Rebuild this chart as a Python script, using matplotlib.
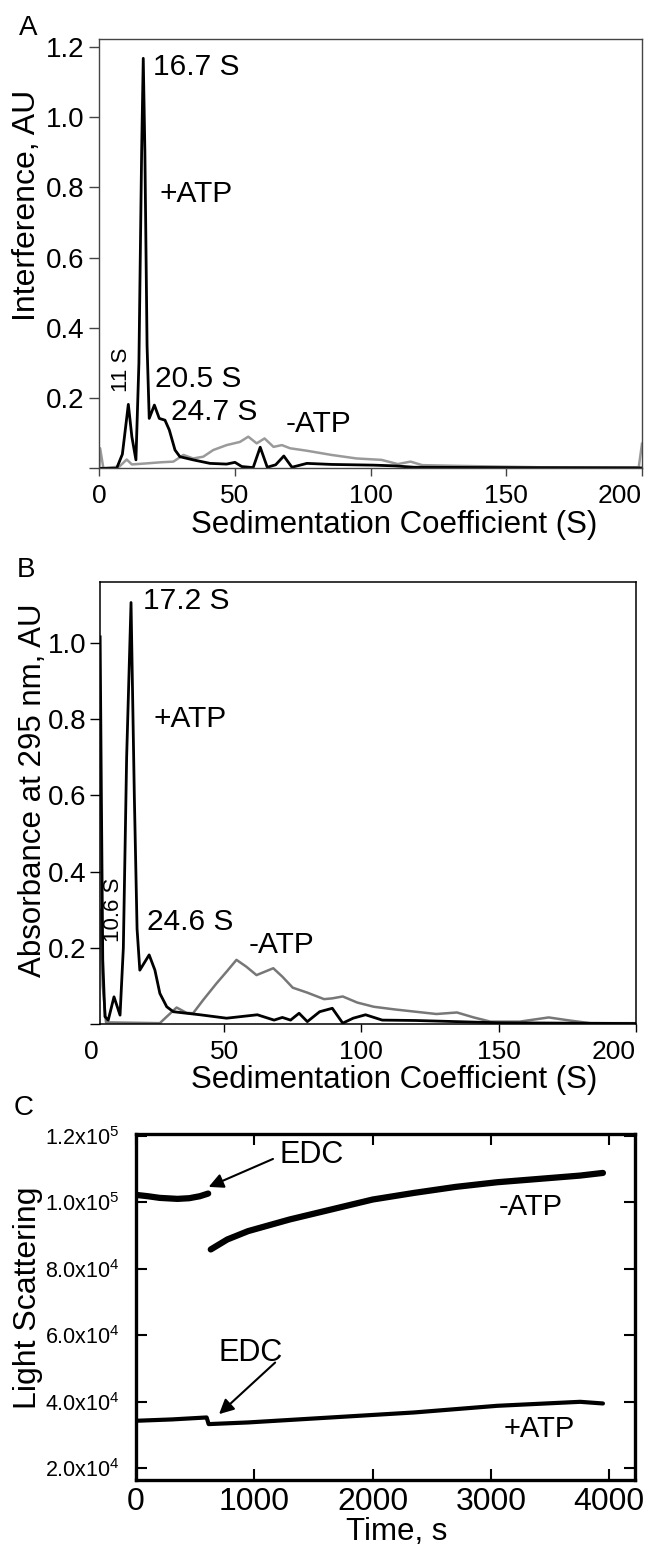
import numpy as np
import matplotlib.pyplot as plt

plt.rcParams['font.family'] = ['Liberation Sans', 'DejaVu Sans']
plt.rcParams['mathtext.fontset'] = 'custom'
plt.rcParams['mathtext.rm'] = 'Liberation Sans'
plt.rcParams['mathtext.it'] = 'Liberation Sans:italic'

# ---- panel A: interference, sedimentation coefficient (S)
a_plus_s = [0, 6.4, 8.5, 10.7, 12.0, 13.5, 14.6, 15.6, 16.2, 16.8, 17.6, 18.4, 20.3, 22.1, 24.2,
            25.8, 27.9, 29.7, 34.6, 40.8, 46.9, 50.0, 52.5, 56.7, 59.3, 61.9, 65.0, 68.0, 71.0,
            76.5, 85.6, 101, 108.6, 116, 150, 200]
a_plus_v = [0, 0.0, 0.04, 0.182, 0.09, 0.024, 0.30, 0.90, 1.167, 0.90, 0.35, 0.142, 0.18, 0.142, 0.137,
            0.109, 0.052, 0.033, 0.024, 0.014, 0.012, 0.017, 0.005, 0.002, 0.06, 0.003, 0.01, 0.035, 0.003,
            0.014, 0.011, 0.009, 0.007, 0.003, 0.002, 0.001]
a_minus_s = [0, 0.3, 1.5, 7.4, 10.1, 12.0, 17.5, 22.4, 27.3, 31.0, 34.6, 38.3, 42.0, 46.9, 51.8, 54.9,
             58.0, 60.9, 64.2, 67.3, 70.3, 76.5, 85.6, 94.8, 104, 110, 114.7, 119, 131.5, 162, 198.8, 200]
a_minus_v = [0.0, 0.057, 0.0, 0.005, 0.025, 0.011, 0.014, 0.017, 0.019, 0.038, 0.028, 0.033, 0.052, 0.066,
             0.075, 0.09, 0.071, 0.085, 0.061, 0.066, 0.057, 0.05, 0.038, 0.028, 0.024, 0.012, 0.019, 0.009,
             0.007, 0.003, 0.003, 0.07]

# ---- panel B: absorbance at 295 nm
b_plus_s = [4.85, 5.3, 5.8, 6.6, 7.8, 9.9, 12.1, 13.3, 14.5, 16.1, 17.3, 18.3, 19.3, 22.7, 24.8, 26.6,
            29.1, 31.5, 36.3, 41.2, 50.9, 62.1, 68.2, 71.2, 74.2, 77.3, 80.3, 84.8, 89.4, 93.2, 97.0,
            101.5, 107.6, 119.7, 134.8, 150, 200]
b_plus_v = [1.016, 0.6, 0.17, 0.02, 0.011, 0.072, 0.024, 0.2, 0.7, 1.106, 0.6, 0.25, 0.142, 0.182, 0.142,
            0.081, 0.046, 0.033, 0.029, 0.025, 0.016, 0.025, 0.011, 0.018, 0.011, 0.029, 0.007, 0.033,
            0.042, 0.003, 0.016, 0.025, 0.011, 0.01, 0.007, 0.004, 0.002]
b_minus_s = [4.85, 5.8, 7.0, 26.6, 29.1, 32.7, 36.3, 38.7, 42.4, 47.2, 50.9, 54.5, 58.1, 61.8, 65.2,
             67.9, 71.2, 75.0, 80.3, 86.4, 89.4, 93.2, 98.5, 104.5, 112.1, 119.7, 127.3, 134.8, 140.9,
             147, 157.6, 168.2, 175.8, 183.3, 200]
b_minus_v = [0.3, 0.1, 0.005, 0.003, 0.02, 0.044, 0.03, 0.029, 0.064, 0.107, 0.138, 0.169, 0.151, 0.129,
             0.139, 0.147, 0.125, 0.096, 0.083, 0.066, 0.068, 0.073, 0.057, 0.046, 0.039, 0.033, 0.027,
             0.031, 0.018, 0.007, 0.007, 0.018, 0.01, 0.003, 0.003]

# ---- panel C: light scattering vs time (s)
c_minus_pre_t = [0, 100, 200, 350, 450, 540, 610]
c_minus_pre_v = [1.022e5, 1.018e5, 1.013e5, 1.010e5, 1.012e5, 1.018e5, 1.026e5]
c_minus_post_t = [632, 772, 947, 1298, 1649, 2000, 2351, 2702, 3053, 3404, 3754, 3947]
c_minus_post_v = [8.58e4, 8.88e4, 9.13e4, 9.48e4, 9.78e4, 1.008e5, 1.028e5, 1.046e5, 1.06e5, 1.07e5,
                  1.08e5, 1.088e5]
c_plus_t = [0, 300, 597, 614, 947, 1649, 2351, 3053, 3754, 3947]
c_plus_v = [3.43e4, 3.47e4, 3.53e4, 3.33e4, 3.38e4, 3.53e4, 3.68e4, 3.88e4, 4.0e4, 3.95e4]

c_yticks = [2e4, 4e4, 6e4, 8e4, 1e5, 1.2e5]
c_ylabels = [r'2.0x10$^{4}$', r'4.0x10$^{4}$', r'6.0x10$^{4}$', r'8.0x10$^{4}$',
             r'1.0x10$^{5}$', r'1.2x10$^{5}$']

W, H = 650, 1544


def ax_rect(left, top, right, bottom):
    return [left / W, 1 - bottom / H, (right - left) / W, (bottom - top) / H]


fig = plt.figure(figsize=(W / 100, H / 100), dpi=100)

# ---------------- A
ax = fig.add_axes(ax_rect(99.3, 39, 642, 468.3))
ax.plot(a_minus_s, a_minus_v, color='#9a9a9a', lw=1.8)
ax.plot(a_plus_s, a_plus_v, color='black', lw=2.0)
ax.set_xlim(0, 200)
ax.set_ylim(0, 1.222)
ax.set_yticks([0, 0.2, 0.4, 0.6, 0.8, 1.0, 1.2])
ax.set_yticklabels(['', '0.2', '0.4', '0.6', '0.8', '1.0', '1.2'])
ax.set_xticks([0, 50, 100, 150, 200])
ax.tick_params(axis='y', direction='out', length=7, width=1, pad=4, labelsize=20, color='#444444')
ax.tick_params(axis='x', direction='out', length=6, width=1, pad=5, labelsize=19, color='#444444')
ax.get_xticklabels()[-1].set_ha('right')
for sp in ax.spines.values():
    sp.set_color('#444444')
    sp.set_linewidth(1.0)
ax.set_xlabel('Sedimentation Coefficient (S)', fontsize=22.5)
ax.xaxis.set_label_coords(0.543, -0.132)
ax.xaxis.label.set_va('center')
ax.set_ylabel('Interference, AU', fontsize=23)
ax.yaxis.set_label_coords(-0.133, 0.613)
ax.yaxis.label.set_va('center')
ax.text(19.7, 1.141, '16.7 S', fontsize=21.5, ha='left', va='center')
ax.text(22.1, 0.782, '+ATP', fontsize=21.5, ha='left', va='center')
ax.text(8.0, 0.279, '11 S', fontsize=16, ha='center', va='center', rotation=90)
ax.text(20.5, 0.255, '20.5 S', fontsize=21.5, ha='left', va='center')
ax.text(26.4, 0.161, '24.7 S', fontsize=21.5, ha='left', va='center')
ax.text(68.8, 0.127, '-ATP', fontsize=21.5, ha='left', va='center')
fig.text(28 / W, 1 - 28 / H, 'A', fontsize=20, ha='center', va='center')

# ---------------- B
ax = fig.add_axes(ax_rect(100, 582.3, 636, 1024.3))
ax.plot(b_minus_s, b_minus_v, color='#777777', lw=1.8)
ax.plot(b_plus_s, b_plus_v, color='black', lw=2.0)
ax.set_xlim(4.8, 200)
ax.set_ylim(0, 1.159)
ax.set_yticks([0, 0.2, 0.4, 0.6, 0.8, 1.0])
ax.set_yticklabels(['', '0.2', '0.4', '0.6', '0.8', '1.0'])
ax.set_xticks([50, 100, 150, 200])
ax.tick_params(axis='y', direction='out', length=7, width=1, pad=3, labelsize=20)
ax.tick_params(axis='x', direction='out', length=6, width=1, pad=5, labelsize=19)
ax.get_xticklabels()[-1].set_ha('right')
ax.annotate('0', xy=(1.8, 0), xycoords=('data', 'axes fraction'), xytext=(0, -11),
            textcoords='offset points', ha='center', va='top', fontsize=19, annotation_clip=False)
for sp in ax.spines.values():
    sp.set_linewidth(1.1)
ax.set_xlabel('Sedimentation Coefficient (S)', fontsize=22.5)
ax.xaxis.set_label_coords(0.549, -0.126)
ax.xaxis.label.set_va('center')
ax.set_ylabel('Absorbance at 295 nm, AU', fontsize=22.5)
ax.yaxis.set_label_coords(-0.125, 0.529)
ax.yaxis.label.set_va('center')
ax.text(20.3, 1.11, '17.2 S', fontsize=21.5, ha='left', va='center')
ax.text(24.4, 0.80, '+ATP', fontsize=21.5, ha='left', va='center')
ax.text(9.6, 0.30, '10.6 S', fontsize=16, ha='center', va='center', rotation=90)
ax.text(22.0, 0.269, '24.6 S', fontsize=21.5, ha='left', va='center')
ax.text(59.1, 0.209, '-ATP', fontsize=21.5, ha='left', va='center')
fig.text(26 / W, 1 - 570 / H, 'B', fontsize=20, ha='center', va='center')

# ---------------- C
ax = fig.add_axes(ax_rect(136, 1134, 635, 1480))
ax.plot(c_minus_pre_t, c_minus_pre_v, color='black', lw=4.5, solid_capstyle='round')
ax.plot(c_minus_post_t, c_minus_post_v, color='black', lw=4.5, solid_capstyle='round')
ax.plot(c_plus_t, c_plus_v, color='black', lw=3.0, solid_capstyle='round')
ax.set_xlim(0, 4218)
ax.set_ylim(1.65e4, 1.205e5)
ax.set_xticks([0, 1000, 2000, 3000, 4000])
ax.set_yticks(c_yticks)
ax.set_yticklabels(c_ylabels)
ax.tick_params(direction='in', length=8, width=1.5, top=True, right=True)
ax.tick_params(axis='y', labelsize=15.5, pad=12)
ax.tick_params(axis='x', labelsize=23, pad=5)
for sp in ax.spines.values():
    sp.set_linewidth(2.4)
ax.set_xlabel('Time, s', fontsize=22.5)
ax.xaxis.set_label_coords(0.523, -0.150)
ax.xaxis.label.set_va('center')
ax.set_ylabel('Light Scattering', fontsize=23)
ax.yaxis.set_label_coords(-0.216, 0.527)
ax.yaxis.label.set_va('center')
arrow = dict(arrowstyle='-|>', color='black', lw=1.5, mutation_scale=22, shrinkA=0, shrinkB=0)
ax.annotate('', xy=(614, 1.046e5), xytext=(1158, 1.13e5), arrowprops=arrow)
ax.text(1481, 1.143e5, 'EDC', fontsize=22, ha='center', va='center')
ax.annotate('', xy=(702, 3.63e4), xytext=(1176, 5.18e4), arrowprops=arrow)
ax.text(965, 5.46e4, 'EDC', fontsize=22, ha='center', va='center')
ax.text(3333, 9.86e4, '-ATP', fontsize=21, ha='center', va='center')
ax.text(3411, 3.18e4, '+ATP', fontsize=21, ha='center', va='center')
fig.text(24 / W, 1 - 1108 / H, 'C', fontsize=20, ha='center', va='center')

fig.savefig('out.png', dpi=100)
